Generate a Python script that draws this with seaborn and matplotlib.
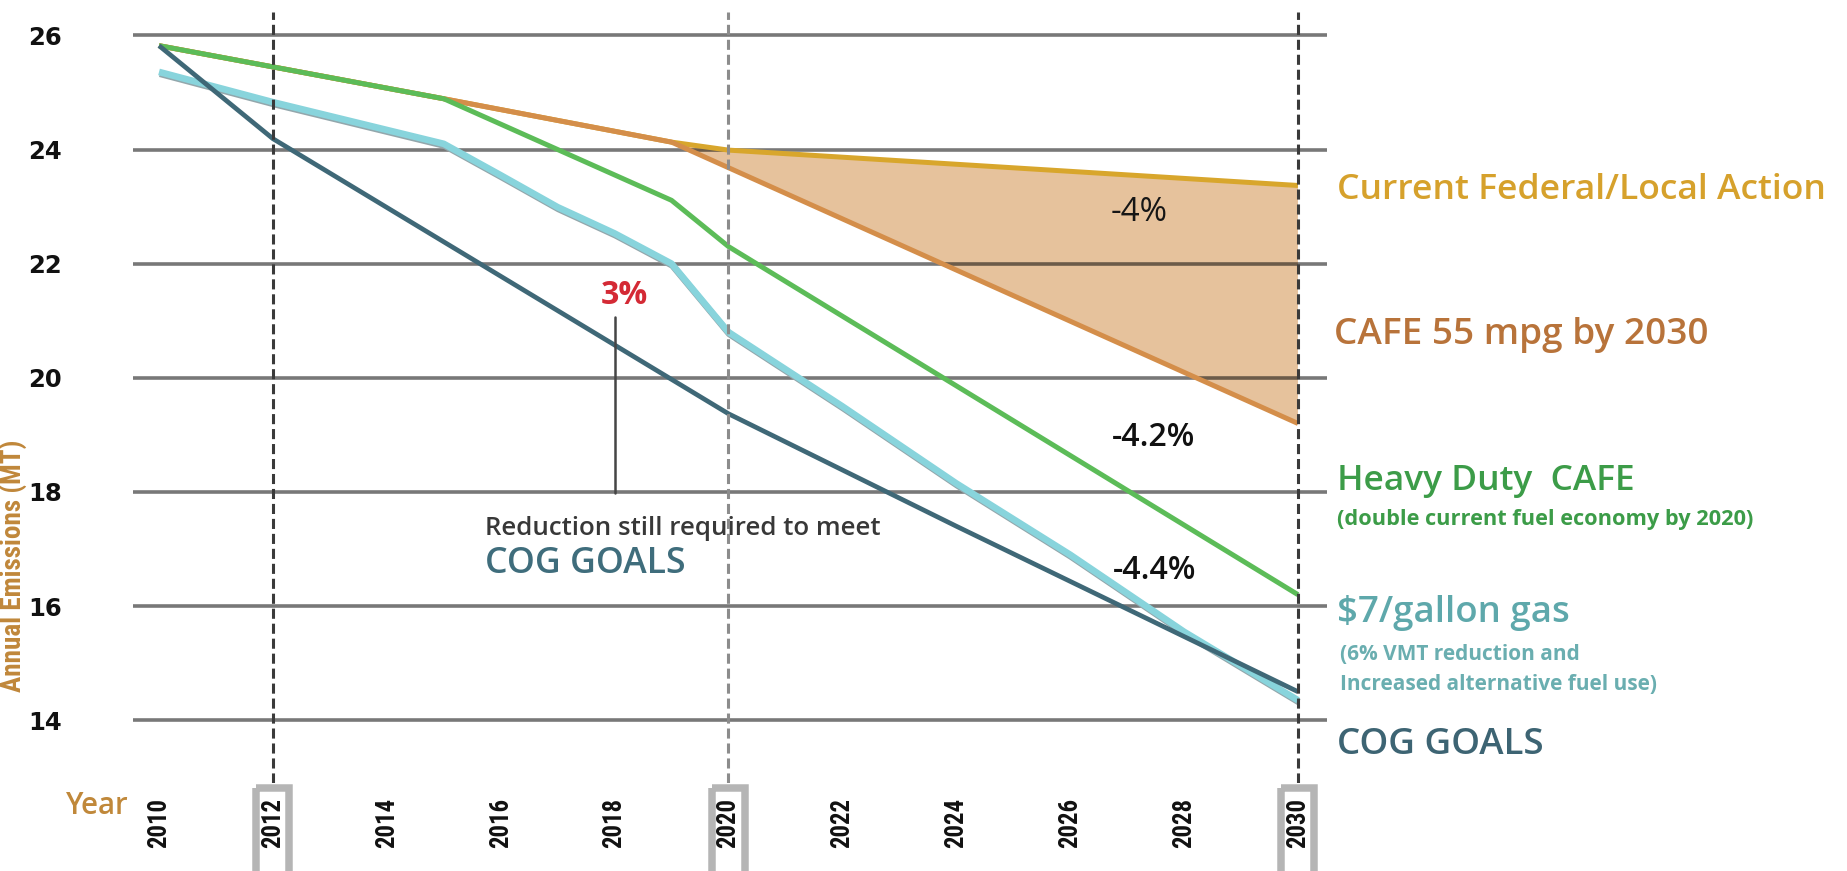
import matplotlib
matplotlib.use("Agg")
import numpy as np
import pandas as pd
import matplotlib.pyplot as plt
import seaborn as sns
from matplotlib import patheffects as pe
from matplotlib.patches import Rectangle
from matplotlib import font_manager as fm
import matplotlib.transforms as mtrans

# ---------------- data ----------------
years_current = [2010, 2015, 2019, 2020, 2030]
current = [25.82, 24.89, 24.13, 23.99, 23.37]

years_cafe = [2010, 2015, 2019, 2030]
cafe = [25.82, 24.89, 24.13, 19.20]

years_heavy = [2010, 2015, 2019, 2020, 2030]
heavy = [25.82, 24.89, 23.11, 22.30, 16.20]

years_gas = [2010, 2012, 2015, 2016, 2017, 2018, 2019, 2020, 2022, 2024, 2026, 2028, 2030]
gas = [25.36, 24.83, 24.10, 23.55, 22.99, 22.53, 22.00, 20.80, 19.50, 18.15, 16.90, 15.55, 14.35]

years_cog = [2010, 2012, 2020, 2024, 2030]
cog = [25.82, 24.19, 19.37, 17.40, 14.50]

scenarios = ["Current Federal/Local Action", "CAFE 55 mpg by 2030", "Heavy Duty CAFE",
             "$7/gallon gas", "COG GOALS"]
x_ticks = list(range(2010, 2031, 2))
y_ticks = list(range(14, 27, 2))
highlight_years = [2012, 2020, 2030]
pct_labels = ["-4%", "-4.2%", "-4.4%"]
gap_label = "3%"

# ---------------- styling ----------------
W, H = 1847, 871
sns.set_theme(style="white")
plt.rcParams["font.family"] = ["Open Sans", "DejaVu Sans"]


# ---- look for a condensed / narrow face (for tick years and y title) ----
def _w(v):
    if isinstance(v, str):
        return fm.weight_dict.get(v, 400)
    return int(v)


def _is_cond(f):
    nm = f.name.lower()
    st = f.stretch
    if "condensed" in nm or "narrow" in nm:
        return True
    if isinstance(st, str):
        return "condensed" in st
    try:
        return int(st) < 100
    except Exception:
        return False


pref = ["liberation sans narrow", "roboto condensed", "open sans condensed",
        "noto sans", "dejavu sans condensed", "dejavu sans"]
cands = [f for f in fm.fontManager.ttflist if _is_cond(f) and "italic" not in f.style
         and "oblique" not in f.style and "mono" not in f.name.lower()
         and "serif" not in f.name.lower()]


def _rank(f):
    nm = f.name.lower()
    for i, p in enumerate(pref):
        if nm.startswith(p):
            return i
    return len(pref)


cands.sort(key=_rank)
cond_bold = cond_reg = None
if cands:
    fam = cands[0].name
    same = [f for f in cands if f.name == fam]
    cond_bold = min(same, key=lambda f: abs(_w(f.weight) - 700)).fname
    cond_reg = min(same, key=lambda f: abs(_w(f.weight) - 550)).fname


def cond_fp(bold=True):
    path = cond_bold if bold else cond_reg
    if path:
        return fm.FontProperties(fname=path)
    return fm.FontProperties(family="DejaVu Sans", weight="bold" if bold else "normal")


line_colors = {
    scenarios[0]: "#d8a62c",
    scenarios[1]: "#d48e4a",
    scenarios[2]: "#5cbc58",
    scenarios[3]: "#88d4dc",
    scenarios[4]: "#3f6877",
}
line_widths = {scenarios[0]: 3.6, scenarios[1]: 3.6, scenarios[2]: 3.6,
               scenarios[3]: 4.8, scenarios[4]: 3.4}

fig = plt.figure(figsize=(W / 100, H / 100), dpi=100)
ax = fig.add_axes([133 / W, 1 - 783 / H, 1194 / W, 771 / H])
renderer = fig.canvas.get_renderer()


def fx(x):
    return x / W


def fy(y):
    return 1 - y / H


def fit(t, target, vertical=False):
    bb = t.get_window_extent(renderer)
    cur = bb.height if vertical else bb.width
    t.set_fontsize(t.get_fontsize() * target / cur)


# long data frame
frames = []
for name, yrs, vals in zip(scenarios,
                           [years_current, years_cafe, years_heavy, years_gas, years_cog],
                           [current, cafe, heavy, gas, cog]):
    frames.append(pd.DataFrame({"year": yrs, "value": vals, "scenario": name}))
df = pd.concat(frames, ignore_index=True)

# shaded gap between current action and CAFE
i0 = years_current.index(2019)
j0 = years_cafe.index(2019)
poly_x = years_current[i0:] + years_cafe[j0:][::-1]
poly_y = current[i0:] + cafe[j0:][::-1]
ax.fill(poly_x, poly_y, color="#e6c29c", zorder=1, lw=0)

sns.lineplot(data=df, x="year", y="value", hue="scenario", hue_order=scenarios,
             palette=line_colors, estimator=None, sort=False, legend=False,
             ax=ax, zorder=3)

for ln in ax.lines:
    c = matplotlib.colors.to_hex(ln.get_color())
    for name, col in line_colors.items():
        if c == col:
            ln.set_linewidth(line_widths[name])
            ln.set_solid_capstyle("butt")
            ln.set_solid_joinstyle("round")
            if name == scenarios[3]:
                ln.set_path_effects([pe.SimpleLineShadow(offset=(0.6, -1.3),
                                                         shadow_color="#93a7ac", alpha=1),
                                     pe.Normal()])

# axes limits / grid
ax.set_xlim(2009.543, 2030.51)
ax.set_ylim(12.9, 26.41)
ax.set_yticks(y_ticks)
ax.set_xticks(x_ticks)
ax.set_axisbelow("line")
ax.yaxis.grid(True, color="black", alpha=0.53, lw=2.6)
ax.xaxis.grid(False)
for s in ax.spines.values():
    s.set_visible(False)
ax.set_xlabel("")
ax.set_ylabel("")

# y tick labels
ax.tick_params(axis="y", length=0, pad=51)
ax.set_yticklabels([str(v) for v in y_ticks], fontweight="bold", color="#111111",
                   family="DejaVu Sans", fontsize=17.5)

# x tick labels (condensed bold)
xfp = cond_fp(True)
tmp = fig.text(0, 0, "2010", fontproperties=xfp, fontsize=18)
bb = tmp.get_window_extent(renderer)
xsz = 18 * 50 / bb.width
tmp.remove()
xfp.set_size(xsz)
ax.tick_params(axis="x", length=0, pad=11)
ax.set_xticklabels([str(v) for v in x_ticks], rotation=90, fontproperties=xfp,
                   color="#111111")

# dashed verticals + boxes around highlighted years
dash_colors = ["#3a3a3a", "#8c8c8c", "#3a3a3a"]
trans = mtrans.blended_transform_factory(ax.transData, ax.transAxes)
for yr, col in zip(highlight_years, dash_colors):
    ax.axvline(yr, ymin=0, ymax=1, color=col, lw=2.2, ls=(0, (3.3, 1.6)), zorder=4)
    ax.add_patch(Rectangle((yr - 0.29, -0.007), 0.58, -0.3, transform=trans,
                           fill=False, edgecolor="#b5b5b5", lw=5.4, clip_on=False,
                           zorder=0.5))

# percentage annotations
t = ax.text(2027.21, 22.9, pct_labels[0], ha="center", va="center", color="#161616",
            fontsize=20)
fit(t, 57)
for lab, (xx, yy) in zip(pct_labels[1:], [(2027.46, 18.96), (2027.49, 16.63)]):
    t = ax.text(xx, yy, lab, ha="center", va="center", color="#111111", fontsize=20,
                fontweight="semibold")
    fit(t, 83)

t = ax.text(2018.18, 21.45, gap_label, ha="center", va="center", color="#d42a35",
            fontsize=24, fontweight="bold")
fit(t, 47)
ax.plot([2018, 2018], [21.06, 17.98], color="#454545", lw=1.8, zorder=3)
t = ax.text(2015.73, 17.36, "Reduction still required to meet", ha="left", va="center",
            color="#383838", fontsize=16, fontweight="semibold")
fit(t, 398)
t = ax.text(2015.73, 16.73, "COG GOALS", ha="left", va="center", color="#3f6d7c",
            fontsize=24, fontweight="semibold")
fit(t, 202)

# right-hand series labels
right_labels = [
    ("Current Federal/Local Action", 1337, 190, 488, "#d6a12c", "semibold"),
    ("CAFE 55 mpg by 2030", 1334, 335, 375, "#b8733a", "semibold"),
    ("Heavy Duty  CAFE", 1337, 481, 298, "#3c9c48", "semibold"),
    ("(double current fuel economy by 2020)", 1337, 520, 417, "#3c9c48", "bold"),
    ("$7/gallon gas", 1337, 613, 232, "#5ea8ab", "semibold"),
    ("COG GOALS", 1337, 745, 207, "#3d6473", "semibold"),
]
for txt, x, y, w, col, wt in right_labels:
    t = fig.text(fx(x), fy(y), txt, ha="left", va="center", color=col, fontsize=20,
                 fontweight=wt, parse_math=False)
    fit(t, w)

t2 = fig.text(fx(1340), fy(684), "Increased alternative fuel use)", ha="left", va="center",
              color="#6aaeb0", fontsize=14, fontweight="bold")
fit(t2, 319)
fig.text(fx(1340), fy(654), "(6% VMT reduction and", ha="left", va="center",
         color="#6aaeb0", fontsize=t2.get_fontsize(), fontweight="bold")

# axis titles
yfp = cond_fp(True)
t = fig.text(fx(14), fy(566), "Annual Emissions (MT)", rotation=90, ha="center",
             va="center", color="#c0873a", fontproperties=yfp)
t.set_fontsize(18)
fit(t, 280, vertical=True)
bb = t.get_window_extent(renderer)
if bb.width > 27:          # keep it clear of the tick numbers
    t.set_fontsize(t.get_fontsize() * 27 / bb.width)
t = fig.text(fx(66), fy(806), "Year", ha="left", va="center", color="#c0883a",
             fontsize=18, fontweight="semibold")
fit(t, 63)

fig.savefig("out.png", dpi=100, facecolor="white")
